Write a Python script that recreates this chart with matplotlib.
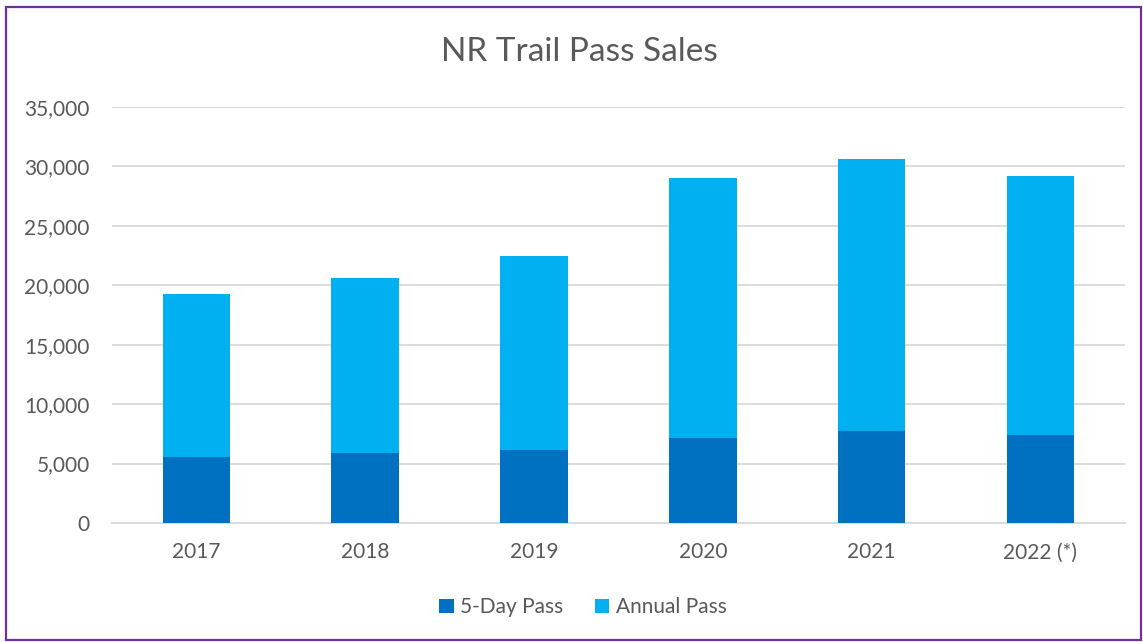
import matplotlib.pyplot as plt
import matplotlib.patches as patches
from matplotlib.ticker import FuncFormatter
import numpy as np

# Data

years = ["2017", "2018", "2019", "2020", "2021", "2022 (*)"]
five_day = [5590, 5920, 6150, 7180, 7770, 7430]
annual = [13710, 14660, 16280, 21810, 22880, 21770]

plt.rcParams["font.family"] = ["Lato", "DejaVu Sans"]

text_color = "#595959"

fig = plt.figure(figsize=(11.43, 6.42), dpi=100)
ax = fig.add_axes([0.098, 0.1854, 0.886, 0.6479])

x = np.arange(len(years))
ax.bar(x, five_day, width=0.4, color="#0070C0", label="5-Day Pass", zorder=3)
ax.bar(x, annual, width=0.4, bottom=five_day, color="#00B0F0",
       label="Annual Pass", zorder=3)

ax.set_xlim(-0.5, len(years) - 0.5)
ax.set_ylim(0, 35000)
ax.set_yticks(np.arange(0, 35001, 5000))
ax.yaxis.set_major_formatter(FuncFormatter(lambda v, p: "{:,.0f}".format(v)))
ax.set_xticks(x)
ax.set_xticklabels(years)

ax.grid(axis="y", color="#D9D9D9", linewidth=1.3, zorder=0)
for s in ["top", "right", "left"]:
    ax.spines[s].set_visible(False)
ax.spines["bottom"].set_color("#D9D9D9")
ax.spines["bottom"].set_linewidth(1.3)
ax.tick_params(axis="both", length=0, labelsize=15, colors=text_color)
ax.tick_params(axis="y", pad=16)
ax.tick_params(axis="x", pad=14)

fig.text(0.507, 0.919, "NR Trail Pass Sales", ha="center", va="center",
         fontsize=24, color=text_color)

fig.legend(loc="center", bbox_to_anchor=(0.51, 0.054), ncol=2, frameon=False,
           fontsize=15, labelcolor=text_color, handlelength=0.7,
           handleheight=0.7, handletextpad=0.3, columnspacing=1.5)

# Purple border around the chart
border = patches.Rectangle((0.005, 0.003), 0.993, 0.986, transform=fig.transFigure,
                           fill=False, edgecolor="#7030A0", linewidth=1.6)
fig.patches.append(border)

fig.savefig("out.png", dpi=100)
